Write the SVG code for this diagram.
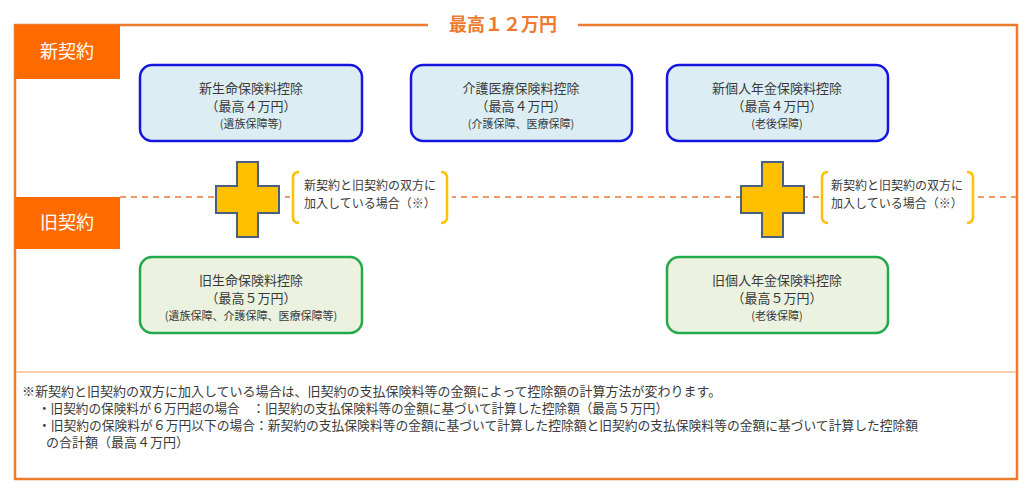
<svg xmlns="http://www.w3.org/2000/svg" width="1024" height="490" viewBox="0 0 1024 490">
<style>
text{font-family:"Noto Sans CJK JP","Noto Sans",sans-serif;fill:#3a3a3a}
.lbl{fill:#fff;font-size:18px;text-anchor:middle}
.t1{font-size:13px;text-anchor:middle}
.t2{font-size:11px;text-anchor:middle}
.nb{fill:#DCEEF4;stroke:#1515E0;stroke-width:2.5}
.ob{fill:#EBF2E0;stroke:#22AA4A;stroke-width:2.5}
.cross{fill:#FFC000;stroke:#4A5F80;stroke-width:2}
.br{fill:none;stroke:#FFC000;stroke-width:2.5}
.bt{font-size:12px}
.note{font-size:13px}
</style>
<rect width="1024" height="490" fill="#fff"/>
<g id="frame">
<rect x="15" y="25" width="1002" height="454" fill="none" stroke="#EE7A30" stroke-width="2.5"/>
<rect x="428" y="18" width="150" height="14" fill="#fff"/>
<text x="503" y="31" style="font-size:18px;font-weight:bold;fill:#EE7A30;text-anchor:middle">最高１２万円</text>
<line x1="16" y1="372" x2="1016" y2="372" stroke="#F8CBAD" stroke-width="2"/>
</g>
<g id="connectors">
<line x1="120" y1="197" x2="1016" y2="197" stroke="#EE7A30" stroke-width="1.5" stroke-dasharray="6,5"/>
</g>
<g id="label-new">
<rect x="15" y="25" width="105" height="54" fill="#FF6A00"/>
<text class="lbl" x="67" y="58">新契約</text>
</g>
<g id="label-old">
<rect x="15" y="197" width="105" height="52" fill="#FF6A00"/>
<text class="lbl" x="67" y="229">旧契約</text>
</g>
<g id="new-life">
<rect class="nb" x="140" y="65" width="222" height="76" rx="12"/>
<text class="t1" x="251" y="93">新生命保険料控除</text>
<text class="t1" x="251" y="111">（最高４万円）</text>
<text class="t2" x="251" y="128">(遺族保障等)</text>
</g>
<g id="new-care">
<rect class="nb" x="411" y="65" width="221" height="76" rx="12"/>
<text class="t1" x="521" y="93">介護医療保険料控除</text>
<text class="t1" x="521" y="111">（最高４万円）</text>
<text class="t2" x="521" y="128">(介護保障、医療保障)</text>
</g>
<g id="new-pension">
<rect class="nb" x="667" y="65" width="221" height="76" rx="12"/>
<text class="t1" x="777" y="93">新個人年金保険料控除</text>
<text class="t1" x="777" y="111">（最高４万円）</text>
<text class="t2" x="777" y="128">(老後保障)</text>
</g>
<g id="old-life">
<rect class="ob" x="140" y="257" width="222" height="76" rx="12"/>
<text class="t1" x="251" y="285">旧生命保険料控除</text>
<text class="t1" x="251" y="303">（最高５万円）</text>
<text class="t2" x="251" y="320">(遺族保障、介護保障、医療保障等)</text>
</g>
<g id="old-pension">
<rect class="ob" x="667" y="257" width="221" height="76" rx="12"/>
<text class="t1" x="777" y="285">旧個人年金保険料控除</text>
<text class="t1" x="777" y="303">（最高５万円）</text>
<text class="t2" x="777" y="320">(老後保障)</text>
</g>
<g id="plus-1">
<path class="cross" d="M237,162H258V186H279V213H258V237H237V213H216V186H237Z"/>
</g>
<g id="note-1">
<rect x="290" y="168" width="162" height="58" fill="#fff"/>
<path class="br" d="M299,172Q293,172 293,178V217Q293,223 299,223"/>
<path class="br" d="M441,172Q447,172 447,178V217Q447,223 441,223"/>
<text class="bt" x="304" y="190">新契約と旧契約の双方に</text>
<text class="bt" x="304" y="208">加入している場合（※）</text>
</g>
<g id="plus-2">
<path class="cross" d="M762,162H783V186H804V213H783V237H762V213H741V186H762Z"/>
</g>
<g id="note-2">
<rect x="819" y="168" width="158" height="58" fill="#fff"/>
<path class="br" d="M828,172Q822,172 822,178V217Q822,223 828,223"/>
<path class="br" d="M967,172Q973,172 973,178V217Q973,223 967,223"/>
<text class="bt" x="831" y="190">新契約と旧契約の双方に</text>
<text class="bt" x="831" y="208">加入している場合（※）</text>
</g>
<g id="notes">
<text class="note" x="22" y="396">※新契約と旧契約の双方に加入している場合は、旧契約の支払保険料等の金額によって控除額の計算方法が変わります。</text>
<text class="note" x="38" y="413" textLength="630" lengthAdjust="spacingAndGlyphs">・旧契約の保険料が６万円超の場合　：旧契約の支払保険料等の金額に基づいて計算した控除額（最高５万円）</text>
<text class="note" x="38" y="430" textLength="880" lengthAdjust="spacingAndGlyphs">・旧契約の保険料が６万円以下の場合：新契約の支払保険料等の金額に基づいて計算した控除額と旧契約の支払保険料等の金額に基づいて計算した控除額</text>
<text class="note" x="46" y="447">の合計額（最高４万円）</text>
</g>
</svg>
